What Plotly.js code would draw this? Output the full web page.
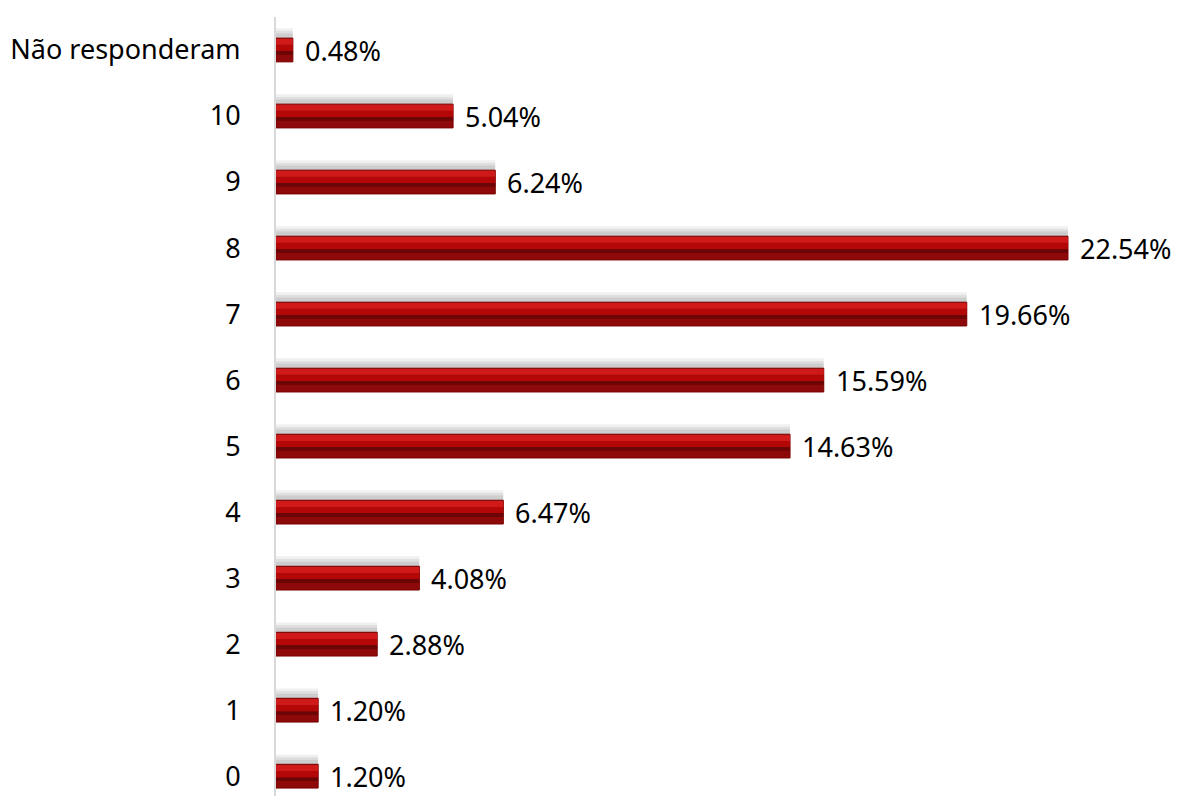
<!DOCTYPE html>
<html><head><meta charset="utf-8">
<script src="https://cdn.plot.ly/plotly-3.0.1.min.js"></script>
<style>html,body{margin:0;padding:0;background:#fff}</style>
</head><body><div id="chart" style="width:1179px;height:796px"></div>
<script>
const categories = ['0','1','2','3','4','5','6','7','8','9','10','Não responderam'];
const values = [1.20, 1.20, 2.88, 4.08, 6.47, 14.63, 15.59, 19.66, 22.54, 6.24, 5.04, 0.48];
const labels = values.map(v => v.toFixed(2) + '%');

const W = 0.36;
function barTrace(fromFrac, toFrac, color, shift, lineColor) {
  return {
    type: 'bar', orientation: 'h', x: values, y: categories,
    offset: -W/2 + W*fromFrac + (shift || 0), width: W*(toFrac - fromFrac),
    marker: {color: color, line: {width: lineColor ? 1 : 0, color: lineColor || color}},
    hoverinfo: 'skip', showlegend: false
  };
}
const traces = [
  barTrace(0, 1, 'rgba(0,0,0,0.06)', 0.15),
  barTrace(0, 1, 'rgba(0,0,0,0.07)', 0.11),
  barTrace(0, 1, 'rgba(0,0,0,0.08)', 0.07),
  barTrace(0, 1, '#8e0a0a', 0, '#7a0000'),
  barTrace(0.30, 0.46, '#6c0505'),
  barTrace(0.46, 0.72, '#b40808'),
  barTrace(0.72, 0.97, '#d01a1a')
];

const annotations = values.map((v, i) => ({
  x: v, y: categories[i], xref: 'x', yref: 'y',
  text: labels[i], showarrow: false, xanchor: 'left', yanchor: 'middle',
  xshift: 10, yshift: 0,
  font: {family: 'Noto Sans, sans-serif', size: 27, color: '#000'}
}));

const layout = {
  width: 1179, height: 796,
  margin: {l: 276, r: 0, t: 17, b: 0},
  paper_bgcolor: '#fff', plot_bgcolor: '#fff',
  barmode: 'overlay',
  xaxis: {range: [0, 25.7], visible: false, fixedrange: true},
  yaxis: {
    type: 'category', categoryorder: 'array', categoryarray: categories,
    range: [-0.3, 11.5],
    showline: true, linecolor: '#d9d9d9', linewidth: 2,
    showgrid: false, zeroline: false, ticks: '',
    ticklabelstandoff: 28,
    tickfont: {family: 'Noto Sans, sans-serif', size: 27, color: '#000'}
  },
  annotations: annotations
};
Plotly.newPlot('chart', traces, layout, {displayModeBar: false, staticPlot: true});
</script></body></html>
